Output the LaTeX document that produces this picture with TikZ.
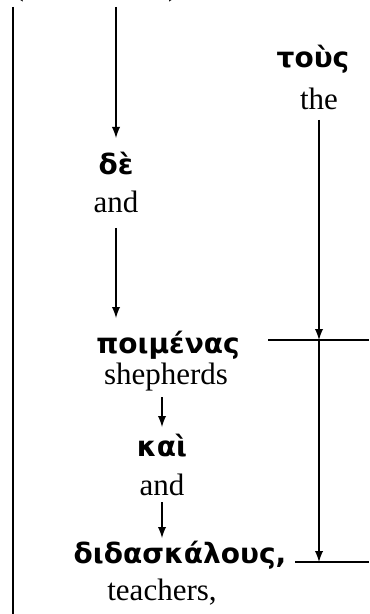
\documentclass[tikz,border=0pt]{standalone}
\usepackage{fontspec}
\setmainfont{Liberation Serif}
\newfontfamily\grk{DejaVu Sans}

\tikzset{
  gr/.style={font=\grk\bfseries\fontsize{14}{16}\selectfont, inner sep=0pt, anchor=base},
  en/.style={font=\fontsize{15.5}{18}\selectfont, inner sep=0pt, anchor=base},
  link/.style={->, >=latex, line width=0.9pt},
  bar/.style={line width=0.9pt},
}

\begin{document}
\begin{tikzpicture}[x=0.5pt, y=-0.5pt]
          \useasboundingbox (0,0) rectangle (369,614);

          % cut-off label above
          \node[en] (ref) at (96,-4) {(\hspace{72pt})};

          % left column
          \coordinate (left top) at (13,7);
          \coordinate (left bot) at (13,614);
          \draw[bar] (left top) -- (left bot);

          % main chain
          \coordinate (mid top) at (116,7);
          \node[gr] (de) at (116,175) {δὲ};
          \node[en] (and1) at (116,213) {and};
          \node[gr] (poimenas) at (168,353) {ποιμένας};
          \node[en] (shepherds) at (166,384) {shepherds};
          \node[gr] (kai) at (162,456) {καὶ};
          \node[en] (and2) at (162,495) {and};
          \node[gr] (didaskalous) at (180,563) {διδασκάλους,};
          \node[en] (teachers) at (162,600) {teachers,};

          \coordinate (de end) at (116,138);
          \coordinate (and1 beg) at (116,228);
          \coordinate (and1 end) at (116,318);
          \coordinate (kai beg) at (162,397);
          \coordinate (kai end) at (162,427);
          \coordinate (and2 beg) at (162,502);
          \coordinate (and2 end) at (162,538);

          \draw[link] (mid top) -- (de end);
          \draw[link] (and1 beg) -- (and1 end);
          \draw[link] (kai beg) -- (kai end);
          \draw[link] (and2 beg) -- (and2 end);

          % article
          \node[gr] (tous) at (313,68) {τοὺς};
          \node[en] (the) at (319,110) {the};

          \coordinate (mark1) at (319,340);
          \coordinate (mark2) at (319,562);
          \coordinate (the beg) at (319,120);
          \draw[bar] (268,340) -- (369,340);
          \draw[bar] (295,562) -- (369,562);

          \draw[link] (the beg) -- (mark1);
          \draw[link] (mark1) -- (mark2);
        \end{tikzpicture}
\end{document}
